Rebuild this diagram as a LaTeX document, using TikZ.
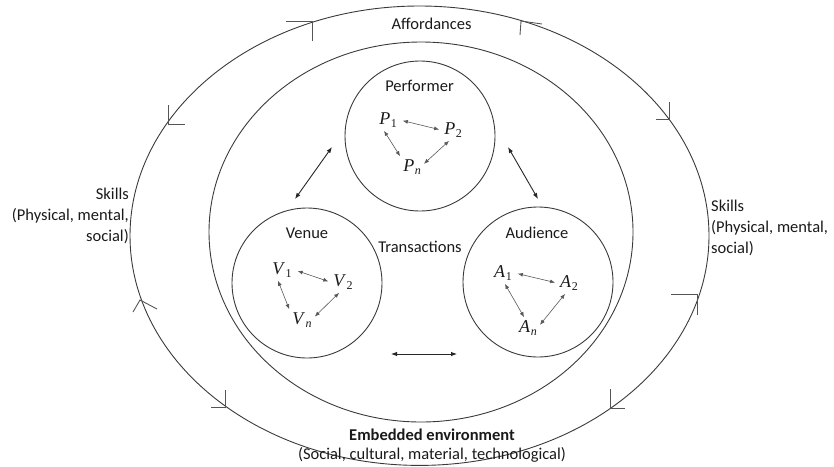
\documentclass[tikz,border=0pt]{standalone}
\usepackage{fontspec}
\setmainfont{Carlito}
\newfontfamily\varfont{Liberation Serif}
\usetikzlibrary{arrows.meta,calc}
\definecolor{linec}{HTML}{3A3A3A}
\definecolor{tickc}{HTML}{555555}
\definecolor{txtc}{HTML}{1A1A1A}
\newcommand\mvar[2]{\varfont\textit{#1}\kern0.5pt\raisebox{-3.5pt}{\fontsize{12}{12}\selectfont #2}}
\tikzset{
  lbl/.style={font=\fontsize{16.5}{21}\selectfont, text=txtc, inner sep=0pt},
  var/.style={font=\fontsize{18}{21}\selectfont, text=txtc, inner sep=3pt},
  ring/.style={draw=linec, line width=0.9pt},
  agent/.style={circle, draw=linec, line width=0.9pt, minimum size=150pt, inner sep=0pt},
  small/.style={{Latex[length=5pt,width=4pt]}-{Latex[length=5pt,width=4pt]}, draw=linec!85, line width=0.6pt},
  big/.style={{Latex[length=6pt,width=4.5pt]}-{Latex[length=6pt,width=4.5pt]}, draw=black!85, line width=0.9pt},
  tick/.style={draw=tickc, line width=0.9pt},
}
\begin{document}
\begin{tikzpicture}[x=1pt,y=-1pt]
\useasboundingbox (0,0) rectangle (834,466);
% rings
\draw[ring] (419.5,235.7) ellipse [x radius=289.5pt, y radius=229.7pt];
\draw[ring] (421,232) ellipse [x radius=212pt, y radius=190pt];
% tick marks on the outer ring
\draw[tick] (286,21) -- (312,21) -- (312,41);
\draw[tick] (168,105) -- (168,124) -- (185,124);
\draw[tick] (542,24) -- (521,21) -- (520,35);
\draw[tick] (669,102) -- (669,119) -- (656,119);
\draw[tick] (133,312) -- (140,300) -- (157,309);
\draw[tick] (225,390) -- (225,407) -- (211,407);
\draw[tick] (671,294) -- (697,294) -- (697,315);
\draw[tick] (610,389) -- (610,408) -- (625,408);
% agent circles
\node[agent] (perf) at (420,136) {};
\node[agent] (venue) at (307,283) {};
\node[agent] (aud) at (538,282) {};
% labels
\node[lbl] (aff) at (431.5,24) {Affordances};
\node[lbl] (perft) at (419.5,86) {Performer};
\node[lbl] (venuet) at (307,233) {Venue};
\node[lbl] (audt) at (537,233) {Audience};
\node[lbl] (trans) at (420,247) {Transactions};
\node[lbl, align=right, anchor=east] (skl) at (129,216) {Skills\\(Physical, mental,\\social)};
\node[lbl, align=left, anchor=west] (skr) at (711,228) {Skills\\(Physical, mental,\\social)};
\node[lbl, font=\fontsize{16.5}{21}\selectfont\bfseries] (emb) at (432,435) {Embedded environment};
\node[lbl] (embs) at (432,455) {(Social, cultural, material, technological)};
% members
\node[var] (p1) at (388,120) {\mvar{P}{1}};
\node[var] (p2) at (453,130) {\mvar{P}{2}};
\node[var] (pn) at (412,167) {\mvar{P}{\textit{n}}};
\node[var] (v1) at (282,270) {\mvar{V}{1}};
\node[var] (v2) at (343,282) {\mvar{V}{2}};
\node[var] (vn) at (302,320) {\mvar{V}{\textit{n}}};
\node[var] (a1) at (503,273) {\mvar{A}{1}};
\node[var] (a2) at (569,283) {\mvar{A}{2}};
\node[var] (an) at (528,328) {\mvar{A}{\textit{n}}};
\draw[small, shorten <=3pt, shorten >=2pt] (p1.east) -- (p2.west);
\draw[small] (p1.250) -- (pn.north west);
\draw[small] (p2.250) -- (pn.15);
\draw[small, shorten <=3pt, shorten >=2pt] (v1.east) -- (v2.west);
\draw[small] (v1.250) -- (vn.north west);
\draw[small] (v2.250) -- (vn.15);
\draw[small, shorten <=3pt, shorten >=2pt] (a1.east) -- (a2.west);
\draw[small] (a1.280) -- (an.110);
\draw[small] (a2.250) -- (an.15);
% transaction arrows
\coordinate (pvA) at (332,147);
\coordinate (pvB) at (295,199);
\coordinate (paA) at (508,147);
\coordinate (paB) at (538,199);
\coordinate (vaA) at (391,354);
\coordinate (vaB) at (457,354);
\draw[big] (pvA) -- (pvB);
\draw[big] (paA) -- (paB);
\draw[big] (vaA) -- (vaB);
\end{tikzpicture}
\end{document}
